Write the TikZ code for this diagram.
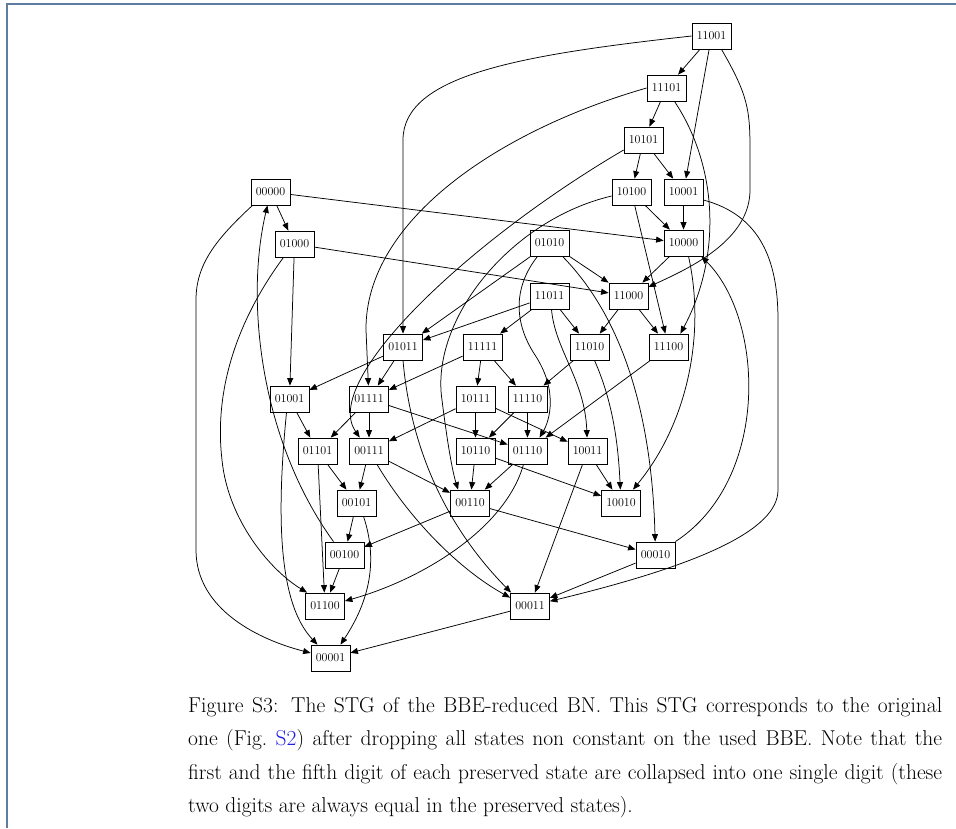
\documentclass[tikz,border=0pt]{standalone}
\usepackage{tikz}
\usepackage{xcolor}
\usetikzlibrary{arrows.meta}
\definecolor{framecol}{RGB}{95,125,160}
\definecolor{linkblue}{RGB}{30,30,235}

\begin{document}
\begin{tikzpicture}[x=1pt, y=-1pt, >={Triangle[length=7.5pt,width=6pt]},
    state/.style={draw, line width=0.8pt, minimum width=39pt, minimum height=26pt,
        inner sep=0pt, font=\fontsize{12}{14}\selectfont},
    edge/.style={->, line width=0.75pt}]
    \useasboundingbox (0,0) rectangle (956,828);
    % page frame
    \draw [framecol, line width=1.6pt] (7,828) -- (7,4) -- (956,4);

    % states
    \node [state] (n11001) at (711.5,36) {11001};
    \node [state] (n11101) at (666.5,88) {11101};
    \node [state] (n10101) at (643.5,140) {10101};
    \node [state] (n10100) at (631.5,192) {10100};
    \node [state] (n10001) at (683.5,192) {10001};
    \node [state] (n00000) at (270.5,192) {00000};
    \node [state] (n01000) at (294.5,244) {01000};
    \node [state] (n10000) at (683.5,243) {10000};
    \node [state] (n01010) at (549.5,243) {01010};
    \node [state] (n11011) at (549.5,296) {11011};
    \node [state] (n11000) at (628.5,296) {11000};
    \node [state] (n01011) at (403,347) {01011};
    \node [state] (n11111) at (482.5,347) {11111};
    \node [state] (n11010) at (589.5,347) {11010};
    \node [state] (n11100) at (668.5,347) {11100};
    \node [state] (n01001) at (289.5,399) {01001};
    \node [state] (n01111) at (369,399) {01111};
    \node [state] (n10111) at (475.5,399) {10111};
    \node [state] (n11110) at (527.5,399) {11110};
    \node [state] (n01101) at (317.5,451) {01101};
    \node [state] (n00111) at (369,451) {00111};
    \node [state] (n10110) at (475.5,451) {10110};
    \node [state] (n01110) at (527.5,451) {01110};
    \node [state] (n10011) at (587.5,451) {10011};
    \node [state] (n00101) at (356.5,503) {00101};
    \node [state] (n00110) at (470,503) {00110};
    \node [state] (n10010) at (621,503) {10010};
    \node [state] (n00100) at (344.5,555) {00100};
    \node [state] (n00010) at (655.5,555) {00010};
    \node [state] (n01100) at (325,606) {01100};
    \node [state] (n00011) at (530,606) {00011};
    \node [state] (n00001) at (330.5,658) {00001};

    % straight transitions
    \foreach \a/\b in {11001/11101, 11001/10001, 11101/10101, 10101/10100, 10101/10001,
        10100/10000, 10001/10000, 00000/01000, 00000/10000, 01000/01001, 01000/11000,
        10000/11000, 01010/11000, 01010/01011, 11011/01011, 11011/11111, 11011/11010,
        11000/11010, 11000/11100, 10100/11100, 01011/01001, 01011/01111, 11111/01111,
        11111/10111, 11111/11110, 11010/11110, 11100/01110, 01001/01101, 01111/01101,
        01111/00111, 01111/01110, 10111/00111, 10111/10110, 10111/10011, 11110/10110,
        11110/01110, 10011/10010, 10011/00011, 01101/00101, 01101/01100, 00111/00101,
        00111/00110, 10110/00110, 10110/10010, 01110/00110, 00101/00100, 00110/00100,
        00110/00010, 00100/01100, 00010/00011, 00011/00001}
        \draw [edge] (n\a) -- (n\b);

    % curved transitions
    \draw [edge] (n11001.west) .. controls (520,55) and (403,75) .. (403,140) -- (n01011);
    \draw [edge] ([xshift=10pt]n11001.south) .. controls (748,95) and (750,110) .. (750,150)
        -- (750,190) .. controls (750,240) and (690,268) .. (n11000);
    \draw [edge] (n11101.west) .. controls (500,130) and (365,220) .. (366,330) -- (n01111);
    \draw [edge] ([xshift=8pt]n11101.south) .. controls (720,170) and (720,260) .. ([xshift=-8pt]n11100.north east);
    \draw [edge] ([yshift=-10pt]n10101.west) .. controls (470,240) and (320,380) .. (n00111);
    \draw [edge] ([yshift=-4pt]n10100.west) .. controls (510,220) and (430,320) .. (442,400)
        .. controls (447,440) and (452,470) .. ([xshift=8pt]n00110.north west);
    \draw [edge] ([xshift=-12pt]n01010.south) .. controls (515,285) and (512,320) .. (535,355)
        .. controls (558,390) and (550,420) .. ([xshift=12pt]n01110.north);
    \draw [edge] ([xshift=13pt]n01010.south) .. controls (625,320) and (652,420) .. (n00010);
    \draw [edge] ([xshift=2pt]n11011.south) .. controls (555,350) and (585,380) .. (n10011);
    \draw [edge] ([xshift=5pt]n11010.south) .. controls (612,400) and (618,440) .. (n10010);
    \draw [edge] ([xshift=5pt]n10000.south) .. controls (705,330) and (690,420) .. ([xshift=12pt]n10010.north);
    \draw [edge] (n00010.north east) .. controls (770,480) and (765,320) .. ([xshift=-2pt]n10000.south east);
    \draw [edge] ([yshift=-8pt]n10001.east) .. controls (760,215) and (778,260) .. (778,320)
        -- (778,490) .. controls (778,530) and (700,565) .. (n00011);
    \draw [edge] ([xshift=-18pt]n00000.south) .. controls (215,240) and (196,265) .. (196,300)
        -- (196,550) .. controls (196,610) and (260,640) .. (n00001);
    \draw [edge] ([xshift=-11pt]n00100.north) .. controls (260,440) and (245,300) .. ([xshift=-3pt]n00000.south);
    \draw [edge] ([xshift=-11pt]n01000.south) .. controls (230,330) and (215,400) .. (222,460)
        .. controls (228,520) and (270,570) .. ([xshift=2pt]n01100.north west);
    \draw [edge] ([xshift=-3pt]n01001.south) .. controls (278,500) and (275,600) .. ([xshift=-13pt]n00001.north);
    \draw [edge] (n01011.south) .. controls (410,440) and (440,520) .. ([xshift=1pt]n00011.north west);
    \draw [edge] ([xshift=8pt]n00111.south) .. controls (410,520) and (460,570) .. ([yshift=-5pt]n00011.north west);
    \draw [edge] ([xshift=-4pt]n01110.south) .. controls (505,530) and (420,580) .. ([yshift=5pt]n01100.east);
    \draw [edge] ([xshift=7pt]n00101.south) .. controls (378,560) and (370,600) .. ([xshift=10pt]n00001.north);

    % caption
    \node [anchor=north west, inner sep=0pt, text width=754pt, align=justify,
        font=\fontsize{21.5}{33.5}\selectfont] (caption) at (188,697)
        {\makebox[754pt][s]{Figure S3: The STG of the BBE-reduced BN. This STG corresponds to the original}\\
        \makebox[754pt][s]{one (Fig.~\textcolor{linkblue}{S2}) after dropping all states non constant on the used BBE. Note that the}\\
        \makebox[754pt][s]{first and the fifth digit of each preserved state are collapsed into one single digit (these}\\
        two digits are always equal in the preserved states).};
\end{tikzpicture}
\end{document}
